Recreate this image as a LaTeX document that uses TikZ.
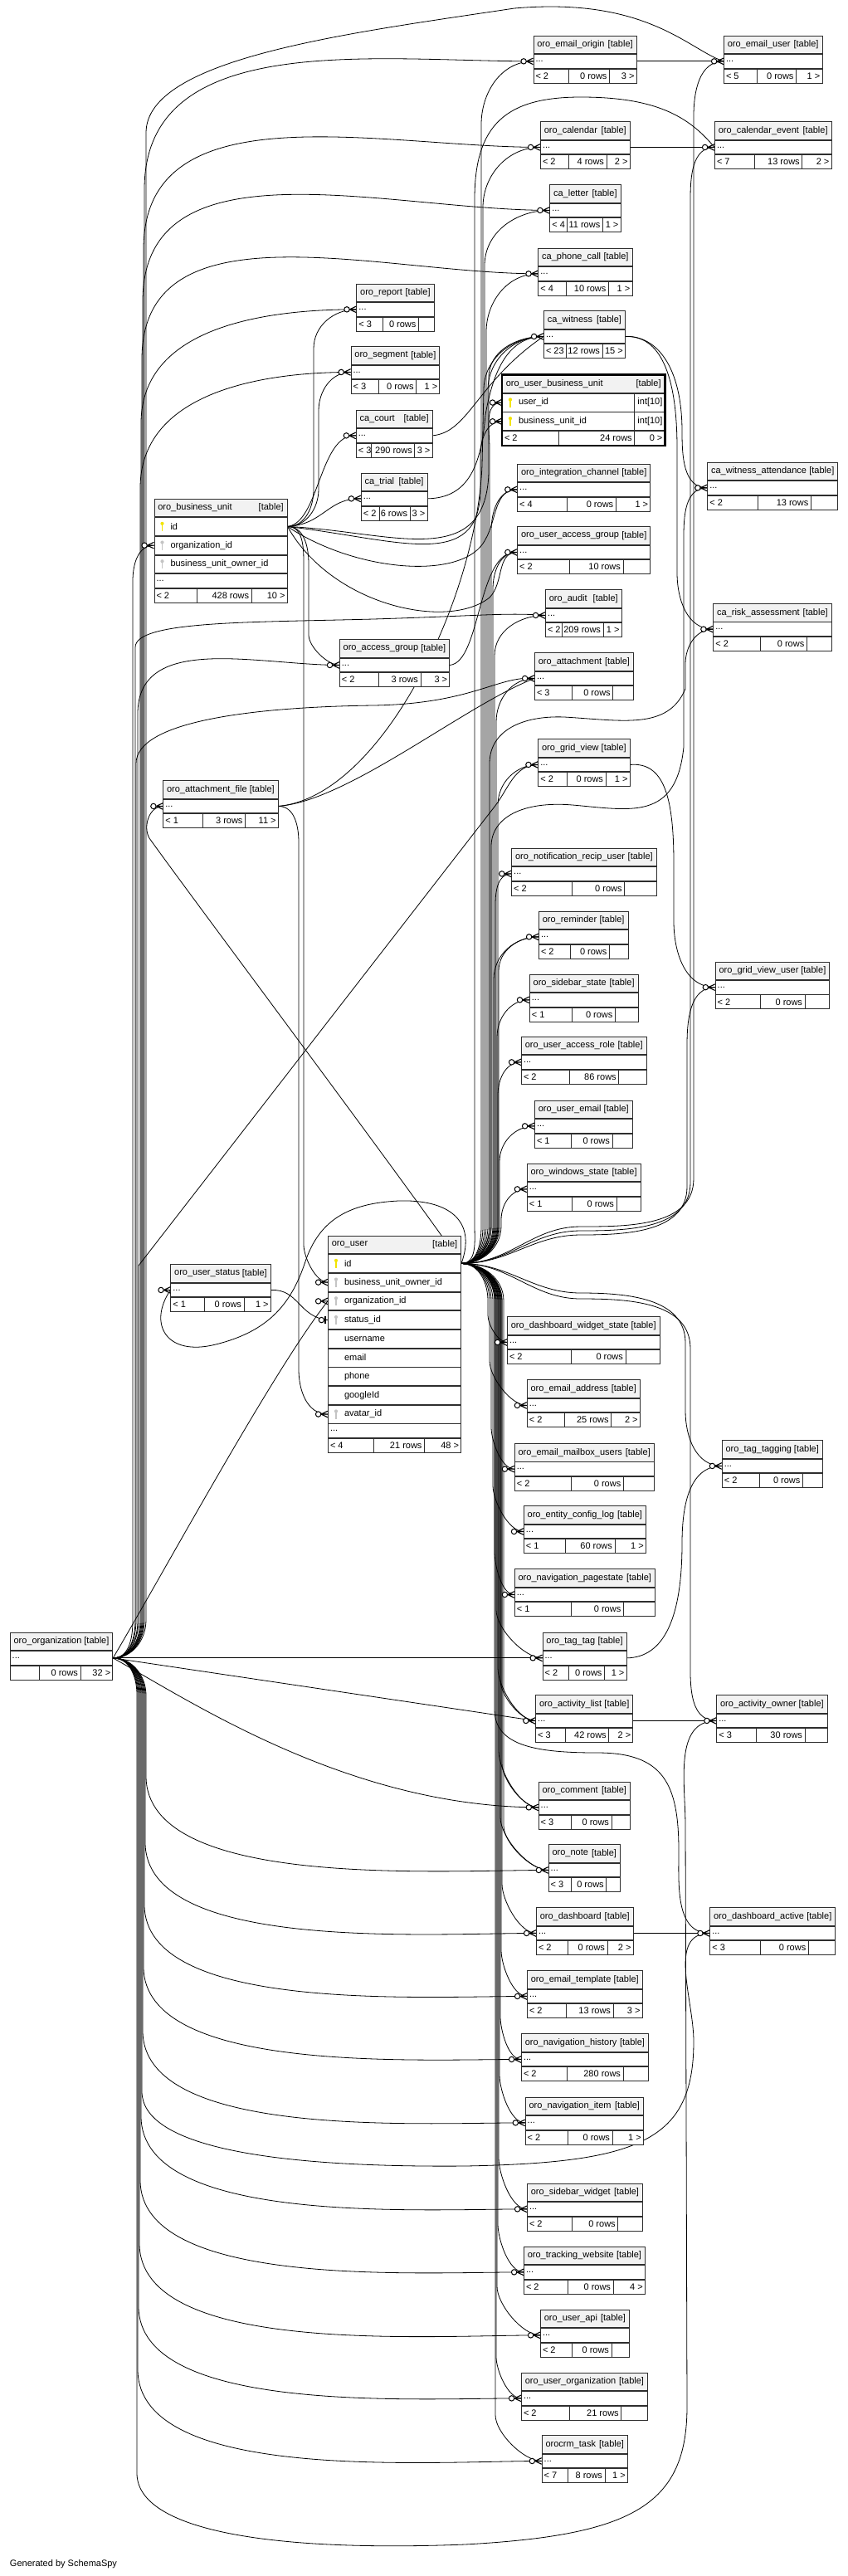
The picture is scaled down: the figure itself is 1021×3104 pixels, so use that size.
\documentclass[tikz,border=0pt]{standalone}
\usepackage{fontspec}
\setmainfont{Liberation Sans}
\usetikzlibrary{calc}
\usetikzlibrary{backgrounds}

\definecolor{hdrgray}{HTML}{F2F2F2}
\definecolor{pkyellow}{HTML}{F2E400}
\definecolor{fkgray}{HTML}{C4C4C4}
\definecolor{tblline}{HTML}{2E2E2E}

\tikzset{
  pkkey/.pic={\fill[pkyellow] (0,-3.6) circle (2.1); \fill[pkyellow] (-0.7,-3) rectangle (0.7,5.5);},
  fkkey/.pic={\fill[fkgray] (0,-3.6) circle (2.1); \fill[fkgray] (-0.7,-3) rectangle (0.7,5.5);},
  nokey/.pic={},
  crowfoot/.pic={
    \draw[line width=1.1pt] (-8,0) -- (0,-3.8) (-8,0) -- (0,0) (-8,0) -- (0,3.8);
    \draw[line width=1pt, fill=white] (-11.4,0) circle (3.2);},
  onebar/.pic={
    \draw[line width=1.1pt] (-4,0) -- (0,0) (-3,-4.5) -- (-3,4.5);
    \draw[line width=1pt, fill=white] (-7.6,0) circle (3.2);}
}

% table parts
\newcommand{\tblhead}[5]{%
  \node[hdr, minimum width=#4pt] (#1) at (#2,#3) {};
  \node[hdrtxt, anchor=west] at (#1.west) {#5};
  \node[hdrtxt, anchor=east] at (#1.east) {[table]};
}
\newcommand{\tbldots}[3]{%
  \node[cell, minimum width=#3pt, minimum height=16.7pt] (#1) at (#2.south west) {};
  \node[txt, anchor=west] at (#1.west) {...};
}
\newcommand{\tblfoot}[7]{%
  \node[cell, minimum width=#3pt, minimum height=17pt] (#1) at (#2.south west) {};
  \foreach \splitA/\splitB in {#7} {
    \draw[tline] ([xshift=\splitA pt]#1.north west) -- ([xshift=\splitA pt]#1.south west)
                 ([xshift=\splitB pt]#1.north west) -- ([xshift=\splitB pt]#1.south west);
    \node[txt, anchor=east] at ([xshift=\splitB pt]#1.west) {#5};
  }
  \node[txt, anchor=west] at (#1.west) {#4};
  \node[txt, anchor=east] at (#1.east) {#6};
}
\newcommand{\tblcol}[5]{%
  \node[cell, minimum width=#3pt, minimum height=21.9pt] (#1) at (#2.south west) {};
  \pic at ([xshift=10pt]#1.west) {#5key};
  \node[txt, anchor=west] at ([xshift=17pt]#1.west) {#4};
}
\newcommand{\tbl}[9]{%
  \tblhead{#1}{#2}{#3}{#4}{#5}
  \tbldots{#1-d}{#1}{#4}
  \tblfoot{#1-f}{#1-d}{#4}{#6}{#7}{#8}{#9}
}
% connectors along a lane
\newcommand{\fkup}[4]{%
  \coordinate (ln) at (#3,#4);
  \draw[fk] (#1) to[out=0,in=-90] ($(#1 -| ln)+(0,-45)$) -- (ln) to[out=90,in=180] (#2);
}
\newcommand{\fkdn}[4]{%
  \coordinate (ln) at (#3,#4);
  \draw[fk] (#1) to[out=0,in=90] ($(#1 -| ln)+(0,45)$) -- (ln) to[out=-90,in=180,looseness=.7] (#2);
}

\begin{document}
\begin{tikzpicture}[x=1pt, y=-1pt,
    font=\fontsize{11}{13}\selectfont,
    hdr/.style={draw=tblline, line width=.8pt, fill=hdrgray, inner sep=0pt, anchor=north west, minimum height=21.6pt},
    cell/.style={draw=tblline, line width=.8pt, fill=white, inner sep=0pt, anchor=north west},
    txt/.style={inner sep=2.8pt},
    hdrtxt/.style={inner sep=4.6pt},
    tline/.style={draw=tblline, line width=.8pt},
    fk/.style={draw=black, line width=.8pt}]
  \useasboundingbox (0,0) rectangle (1021,3104);

  % tables
  \tbl{eorig}{642.5}{42.7}{124.2}{oro\_email\_origin}{< 2}{0 rows}{3 >}{42.5/92}
  \tbl{euser}{872}{42.7}{118.5}{oro\_email\_user}{< 5}{0 rows}{1 >}{40/87.5}
  \tbl{cal}{651}{146.3}{107.7}{oro\_calendar}{< 2}{4 rows}{2 >}{34/80}
  \tbl{calev}{861}{146.3}{140.6}{oro\_calendar\_event}{< 7}{13 rows}{2 >}{48/105.7}
  \tbl{letter}{662.3}{222.3}{85.3}{ca\_letter}{< 4}{11 rows}{1 >}{21/64}
  \tbl{phone}{648.4}{298.7}{113.1}{ca\_phone\_call}{< 4}{10 rows}{1 >}{33.6/85}
  \tbl{report}{429.4}{341.7}{93.2}{oro\_report}{< 3}{0 rows}{}{32/75}
  \tbl{segment}{422.6}{417.3}{106.8}{oro\_segment}{< 3}{0 rows}{1 >}{33.4/79}
  \tbl{witness}{655}{374.3}{98}{ca\_witness}{< 23}{12 rows}{15 >}{27.5/71}
  \tbl{court}{428.8}{493.7}{91.8}{ca\_court}{< 3}{290 rows}{3 >}{19/71}
  \tbl{trial}{434.8}{569.7}{79.7}{ca\_trial}{< 2}{6 rows}{3 >}{22.6/59.4}
  \tbl{intch}{623.2}{558.7}{160.1}{oro\_integration\_channel}{< 4}{0 rows}{1 >}{60.6/119}
  \tbl{uag}{623.2}{634.3}{160.1}{oro\_user\_access\_group}{< 2}{10 rows}{}{62.8/127.7}
  \tbl{wattend}{852.3}{556.7}{157}{ca\_witness\_attendance}{< 2}{13 rows}{}{61/125}
  \tbl{audit}{657}{710.3}{91.7}{oro\_audit}{< 2}{209 rows}{1 >}{20.7/70}
  \tbl{risk}{859.3}{727}{142.4}{ca\_risk\_assessment}{< 2}{0 rows}{}{56.7/113}
  \tbl{agroup}{408.9}{770.3}{132.4}{oro\_access\_group}{< 2}{3 rows}{3 >}{47.1/98.1}
  \tbl{attach}{644}{786.3}{119}{oro\_attachment}{< 3}{0 rows}{}{45/94.7}
  \tbl{grid}{648.3}{890.3}{110.4}{oro\_grid\_view}{< 2}{0 rows}{1 >}{35.5/81.7}
  \tbl{afile}{196.3}{940.3}{138.5}{oro\_attachment\_file}{< 1}{3 rows}{11 >}{48.1/99.2}
  \tbl{notif}{616.2}{1021.7}{174.5}{oro\_notification\_recip\_user}{< 2}{0 rows}{}{72.8/136.4}
  \tbl{remind}{649}{1097.7}{107.5}{oro\_reminder}{< 2}{0 rows}{}{38.7/85.4}
  \tbl{sstate}{637.9}{1173.7}{130.7}{oro\_sidebar\_state}{< 1}{0 rows}{}{51.1/103.5}
  \tbl{gvuser}{861.7}{1158.5}{137.6}{oro\_grid\_view\_user}{< 2}{0 rows}{}{54.3/108.3}
  \tbl{uarole}{628}{1248.7}{150.6}{oro\_user\_access\_role}{< 2}{86 rows}{}{58/117.7}
  \tbl{uemail}{644}{1325.7}{117.7}{oro\_user\_email}{< 1}{0 rows}{}{44/93.9}
  \tbl{wstate}{634.8}{1401.7}{136.8}{oro\_windows\_state}{< 1}{0 rows}{}{54.2/108.2}
  \tbl{ustatus}{205.4}{1523.3}{120.4}{oro\_user\_status}{< 1}{0 rows}{1 >}{40.6/88.6}
  \tbl{dws}{611}{1586.3}{183.6}{oro\_dashboard\_widget\_state}{< 2}{0 rows}{}{77/142.9}
  \tbl{eaddr}{634.8}{1662.3}{136}{oro\_email\_address}{< 2}{25 rows}{2 >}{45.9/101.8}
  \tbl{emb}{619.8}{1739}{168}{oro\_email\_mailbox\_users}{< 2}{0 rows}{}{69/131.5}
  \tbl{tagging}{869.8}{1735.3}{121.1}{oro\_tag\_tagging}{< 2}{0 rows}{}{45.6/97.6}
  \tbl{ecl}{630.9}{1814.3}{147.1}{oro\_entity\_config\_log}{< 1}{60 rows}{1 >}{50.7/110}
  \tbl{npage}{619.8}{1890.3}{169.2}{oro\_navigation\_pagestate}{< 1}{0 rows}{}{69/131.5}
  \tbl{org}{11.7}{1966.7}{123.7}{oro\_organization}{}{0 rows}{32 >}{35.2/85.3}
  \tbl{tag}{653.6}{1966.7}{101}{oro\_tag\_tag}{< 2}{0 rows}{1 >}{31.3/74.9}
  \tbl{alist}{645.2}{2042.3}{117.2}{oro\_activity\_list}{< 3}{42 rows}{2 >}{35.8/88.5}
  \tbl{aowner}{863.3}{2042.3}{133.4}{oro\_activity\_owner}{< 3}{30 rows}{}{48.2/106.7}
  \tbl{comment}{648.7}{2146.7}{110.3}{oro\_comment}{< 3}{0 rows}{}{40/88.3}
  \tbl{note}{660.7}{2222.3}{86.3}{oro\_note}{< 3}{0 rows}{}{28/70}
  \tbl{dash}{646}{2298.3}{116.7}{oro\_dashboard}{< 2}{0 rows}{2 >}{38.7/86}
  \tbl{dactive}{855.3}{2298.3}{151}{oro\_dashboard\_active}{< 3}{0 rows}{}{61/119}
  \tbl{etpl}{635}{2374.3}{138.7}{oro\_email\_template}{< 2}{13 rows}{3 >}{47/104}
  \tbl{nhist}{628}{2450.3}{153}{oro\_navigation\_history}{< 2}{280 rows}{}{55.7/123}
  \tbl{nitem}{632.7}{2526.7}{142.3}{oro\_navigation\_item}{< 2}{0 rows}{1 >}{52/105.3}
  \tbl{swidget}{635}{2630.7}{139}{oro\_sidebar\_widget}{< 2}{0 rows}{}{54.7/109.7}
  \tbl{twebsite}{631}{2706.7}{146}{oro\_tracking\_website}{< 2}{0 rows}{4 >}{53.7/108}
  \tbl{uapi}{651}{2782.7}{107}{oro\_user\_api}{< 2}{0 rows}{}{38.7/86}
  \tbl{uorg}{628}{2858.7}{152}{oro\_user\_organization}{< 2}{21 rows}{}{58/120.7}
  \tbl{task}{652.7}{2934.3}{103.3}{orocrm\_task}{< 7}{8 rows}{1 >}{32/76.3}

  % oro_business_unit
  \tblhead{bu}{185.5}{600.7}{160.2}{oro\_business\_unit}
  \tblcol{bu-id}{bu}{160.2}{id}{pk}
  \tblcol{bu-org}{bu-id}{160.2}{organization\_id}{fk}
  \tblcol{bu-buo}{bu-org}{160.2}{business\_unit\_owner\_id}{fk}
  \tbldots{bu-d}{bu-buo}{160.2}
  \tblfoot{bu-f}{bu-d}{160.2}{< 2}{428 rows}{10 >}{51.9/117.7}

  % oro_user_business_unit
  \tblhead{ubu}{605}{451.3}{195.6}{oro\_user\_business\_unit}
  \tblcol{ubu-uid}{ubu}{195.6}{user\_id}{pk}
  \tblcol{ubu-buid}{ubu-uid}{195.6}{business\_unit\_id}{pk}
  \draw[tline] ([xshift=159.7pt]ubu-uid.north west) -- ([xshift=159.7pt]ubu-buid.south west);
  \node[txt, anchor=east] at (ubu-uid.east) {int[10]};
  \node[txt, anchor=east] at (ubu-buid.east) {int[10]};
  \tblfoot{ubu-f}{ubu-buid}{195.6}{< 2}{24 rows}{0 >}{68.8/159.7}
  \draw[line width=2.6pt] (ubu.north west) rectangle (ubu-f.south east);

  % oro_user
  \tblhead{user}{395}{1488.7}{160.2}{oro\_user}
  \tblcol{user-id}{user}{160.2}{id}{pk}
  \tblcol{user-buo}{user-id}{160.2}{business\_unit\_owner\_id}{fk}
  \tblcol{user-org}{user-buo}{160.2}{organization\_id}{fk}
  \tblcol{user-status}{user-org}{160.2}{status\_id}{fk}
  \tblcol{user-name}{user-status}{160.2}{username}{no}
  \tblcol{user-email}{user-name}{160.2}{email}{no}
  \tblcol{user-phone}{user-email}{160.2}{phone}{no}
  \tblcol{user-gid}{user-phone}{160.2}{googleId}{no}
  \tblcol{user-avatar}{user-gid}{160.2}{avatar\_id}{fk}
  \tbldots{user-d}{user-avatar}{160.2}
  \tblfoot{user-f}{user-d}{160.2}{< 4}{21 rows}{48 >}{55/116.5}

  \node[txt, anchor=west] (gen) at (9,3090) {Generated by SchemaSpy};

  \begin{scope}[on background layer]
    \fill[white] (0,0) rectangle (1021,3104);
    % oro_organization, upwards
    \draw[fk] (org-d.east) to[out=0,in=-90] (176,1952) -- (176,160) .. controls (176,70) and (420,40) .. (620,10) .. controls (780,-4) and (830,60) .. (euser-d.west);
    \fkup{org-d.east}{eorig-d.west}{174}{228}
    \fkup{org-d.east}{cal-d.west}{173}{300}
    \fkup{org-d.east}{letter-d.west}{172}{363}
    \fkup{org-d.east}{phone-d.west}{171}{433}
    \fkup{org-d.east}{report-d.west}{170}{510}
    \fkup{org-d.east}{segment-d.west}{169}{588}
    \fkup{org-d.east}{bu-org.west}{160}{700}
    \fkup{org-d.east}{agroup-d.west}{166}{860}
    \draw[fk] (org-d.east) to[out=0,in=-90] (164,1952) -- (164,920) .. controls (164,870) and (300,852) .. (450,850) .. controls (570,848) and (600,814) .. (attach-d.west);
    \draw[fk] (org-d.east) to[out=0,in=-90] (163,1952) -- (163,780) .. controls (163,748) and (300,750) .. (450,746) .. controls (580,742) and (610,738) .. (audit-d.west);
    \draw[fk] (org-d.east) to[out=0,in=-90] (167,1952) -- (167,1525) -- (596,972) to[out=52,in=180] (grid-d.west);
    \draw[fk] (org-d.east) .. controls (200,1890) and (330,1650) .. (user-org.west);
    % oro_organization, downwards
    \draw[fk] (org-d.east) -- (tag-d.west);
    \draw[fk] (org-d.east) -- (alist-d.west);
    \draw[fk] (org-d.east) .. controls (230,2050) and (420,2177) .. (comment-d.west);
    \fkdn{org-d.east}{note-d.west}{176}{2140}
    \fkdn{org-d.east}{dash-d.west}{175}{2220}
    \fkdn{org-d.east}{etpl-d.west}{174}{2295}
    \fkdn{org-d.east}{nhist-d.west}{173}{2370}
    \fkdn{org-d.east}{nitem-d.west}{172}{2447}
    \fkdn{org-d.east}{swidget-d.west}{170}{2550}
    \fkdn{org-d.east}{twebsite-d.west}{169}{2627}
    \fkdn{org-d.east}{uapi-d.west}{168}{2703}
    \fkdn{org-d.east}{uorg-d.west}{167}{2779}
    \fkdn{org-d.east}{task-d.west}{166}{2855}
    \draw[fk] (org-d.east) to[out=0,in=90] (171,2042) -- (171,2520) .. controls (171,2585) and (320,2612) .. (560,2610) .. controls (770,2606) and (836,2580) .. (836,2460) to[out=90,in=180] (dactive-d.west);
    \draw[fk] (org-d.east) to[out=0,in=90] (165,2042) -- (165,2980) .. controls (165,3050) and (330,3075) .. (560,3066) .. controls (760,3055) and (828,3020) .. (828,2900) -- (826,2200) to[out=90,in=180] (aowner-d.west);
    % oro_business_unit
    \fkup{bu-id.east}{report-d.west}{378}{420}
    \fkup{bu-id.east}{segment-d.west}{384}{495}
    \draw[fk] (bu-id.east) .. controls (385,630) and (385,522) .. (court-d.west);
    \draw[fk] (bu-id.east) .. controls (390,632) and (395,600) .. (trial-d.west);
    \draw[fk] (bu-id.east) .. controls (470,640) and (585,690) .. (589,570) -- (589,455) to[out=90,in=180] (witness-d.west);
    \draw[fk] (bu-id.east) .. controls (480,650) and (578,690) .. (579,590) -- (579,550) to[out=90,in=180] (ubu-buid.west);
    \draw[fk] (bu-id.east) .. controls (430,690) and (560,700) .. (585,650) to[out=60,in=180] (intch-d.west);
    \draw[fk] (bu-id.east) .. controls (400,730) and (540,760) .. (590,720) to[out=45,in=180] (uag-d.west);
    \fkdn{bu-id.east}{agroup-d.west}{372}{765}
    \fkdn{bu-id.east}{user-buo.west}{366}{1500}
    % oro_attachment_file
    \draw[fk] (afile-d.east) .. controls (420,965) and (560,850) .. (attach-d.west);
    \draw[fk] (afile-d.east) .. controls (460,960) and (575,720) .. (581,560) -- (583,470) to[out=90,in=180] (witness-d.west);
    \draw[fk] (afile-d.east) to[out=0,in=90] (360,1015) -- (360,1650) to[out=-90,in=180] (user-avatar.west);
    % small parents
    \draw[fk] (court-d.east) .. controls (565,521) and (575,460) .. (witness-d.west);
    \draw[fk] (trial-d.east) .. controls (565,600) and (580,560) .. (585,500) to[out=80,in=180] (witness-d.west);
    \draw[fk] (agroup-d.east) .. controls (580,798) and (575,662) .. (uag-d.west);
    \draw[fk] (eorig-d.east) -- (euser-d.west);
    \draw[fk] (cal-d.east) -- (calev-d.west);
    \draw[fk] (alist-d.east) -- (aowner-d.west);
    \draw[fk] (dash-d.east) -- (dactive-d.west);
    \draw[fk] (witness-d.east) .. controls (790,404) and (822,440) .. (822,520) to[out=-90,in=180] (wattend-d.west);
    \draw[fk] (witness-d.east) .. controls (795,404) and (816,450) .. (816,540) -- (816,690) to[out=-90,in=180] (risk-d.west);
    \draw[fk] (grid-d.east) .. controls (800,918) and (812,960) .. (812,1040) -- (812,1110) to[out=-90,in=180] (gvuser-d.west);
    \draw[fk] (tag-d.east) .. controls (800,1997) and (822,1950) .. (822,1860) to[out=90,in=180] (tagging-d.west);
    \draw[fk] (ustatus-d.east) .. controls (360,1553) and (360,1587) .. (user-status.west);
    % oro_user, upwards
    \fkup{user-id.east}{eorig-d.west}{580}{150}
    \fkup{user-id.east}{cal-d.west}{582}{250}
    \fkup{user-id.east}{letter-d.west}{584}{320}
    \fkup{user-id.east}{phone-d.west}{586}{400}
    \fkup{user-id.east}{witness-d.west}{588}{470}
    \fkup{user-id.east}{ubu-uid.west}{590}{540}
    \fkup{user-id.east}{intch-d.west}{592}{640}
    \fkup{user-id.east}{uag-d.west}{594}{710}
    \fkup{user-id.east}{audit-d.west}{596}{790}
    \fkup{user-id.east}{attach-d.west}{598}{870}
    \fkup{user-id.east}{grid-d.west}{600}{970}
    \fkup{user-id.east}{notif-d.west}{597}{1090}
    \fkup{user-id.east}{remind-d.west}{595}{1180}
    \fkup{user-id.east}{remind-d.west}{601}{1170}
    \fkup{user-id.east}{sstate-d.west}{599}{1250}
    \fkup{user-id.east}{uarole-d.west}{600}{1320}
    \fkup{user-id.east}{uemail-d.west}{602}{1400}
    \fkup{user-id.east}{wstate-d.west}{604}{1470}
    \draw[fk] (user-id.east) to[out=0,in=-90] (572,1476) -- (572,240) .. controls (572,150) and (610,117) .. (700,117) .. controls (790,117) and (830,140) .. (calev-d.west);
    \draw[fk] (user-id.east) to[out=0,in=180] (700,1478) to[out=0,in=-90] (836,1420) -- (836,140) to[out=90,in=180] (euser-d.west);
    \draw[fk] (user-id.east) to[out=0,in=180] (700,1483) to[out=0,in=-90] (832,1425) -- (832,240) to[out=90,in=180] (calev-d.west);
    \draw[fk] (user-id.east) to[out=0,in=180] (700,1488) to[out=0,in=-90] (828,1430) -- (828,1260) to[out=90,in=180] (gvuser-d.west);
    \draw[fk] (user-id.east) to[out=0,in=-90] (590,1476) -- (590,920) .. controls (590,880) and (630,862) .. (680,864) .. controls (750,868) and (805,880) .. (826,830) -- (826,800) to[out=90,in=180] (risk-d.west);
    \draw[fk] (user-id.east) to[out=0,in=-90] (592,1476) -- (592,1020) .. controls (592,985) and (630,965) .. (690,970) .. controls (760,976) and (815,990) .. (824,900) -- (824,660) to[out=90,in=180] (wattend-d.west);
    \draw[fk] (user-id.east) .. controls (470,1400) and (230,1080) .. (180,1010) to[out=120,in=180] (afile-d.west);
    \draw[fk] (user-id.east) .. controls (575,1470) and (540,1445) .. (480,1447) .. controls (420,1450) and (385,1470) .. (368,1520) .. controls (350,1575) and (320,1605) .. (260,1620) .. controls (200,1635) and (178,1595) .. (ustatus-d.west);
    % oro_user, downwards
    \fkdn{user-id.east}{dws-d.west}{588}{1585}
    \fkdn{user-id.east}{eaddr-d.west}{590}{1640}
    \fkdn{user-id.east}{emb-d.west}{592}{1720}
    \fkdn{user-id.east}{ecl-d.west}{594}{1790}
    \fkdn{user-id.east}{npage-d.west}{596}{1870}
    \fkdn{user-id.east}{tag-d.west}{598}{1940}
    \fkdn{user-id.east}{alist-d.west}{600}{2010}
    \fkdn{user-id.east}{alist-d.west}{603}{2025}
    \fkdn{user-id.east}{comment-d.west}{601}{2110}
    \fkdn{user-id.east}{comment-d.west}{605}{2125}
    \fkdn{user-id.east}{note-d.west}{603}{2190}
    \fkdn{user-id.east}{note-d.west}{607}{2200}
    \fkdn{user-id.east}{dash-d.west}{605}{2270}
    \fkdn{user-id.east}{etpl-d.west}{604}{2350}
    \fkdn{user-id.east}{nhist-d.west}{603}{2430}
    \fkdn{user-id.east}{nitem-d.west}{602}{2500}
    \fkdn{user-id.east}{swidget-d.west}{601}{2600}
    \fkdn{user-id.east}{twebsite-d.west}{600}{2680}
    \fkdn{user-id.east}{uapi-d.west}{599}{2755}
    \fkdn{user-id.east}{uorg-d.west}{598}{2840}
    \fkdn{user-id.east}{task-d.west}{597}{2910}
    \draw[fk] (user-id.east) to[out=0,in=90] (596,1566) -- (596,2060) .. controls (596,2105) and (650,2112) .. (720,2112) .. controls (800,2112) and (818,2150) .. (818,2230) to[out=-90,in=180] (dactive-d.west);
    \draw[fk] (user-id.east) to[out=0,in=180] (700,1565) to[out=0,in=90] (832,1625) -- (832,1990) to[out=-90,in=180] (aowner-d.west);
    \draw[fk] (user-id.east) to[out=0,in=180] (700,1558) to[out=0,in=90] (826,1618) -- (826,1700) to[out=-90,in=180] (tagging-d.west);
  \end{scope}

  % crow's feet at the child ends
  \foreach \c in {eorig-d, euser-d, cal-d, calev-d, letter-d, phone-d, report-d, segment-d,
      witness-d, ubu-uid, ubu-buid, court-d, trial-d, bu-org, intch-d, uag-d, wattend-d,
      audit-d, risk-d, agroup-d, attach-d, afile-d, grid-d, notif-d, remind-d, sstate-d,
      gvuser-d, uarole-d, uemail-d, wstate-d, ustatus-d, user-buo, user-org, user-avatar,
      dws-d, eaddr-d, emb-d, tagging-d, ecl-d, npage-d, tag-d, alist-d, aowner-d, comment-d,
      note-d, dash-d, dactive-d, etpl-d, nhist-d, nitem-d, swidget-d, twebsite-d, uapi-d,
      uorg-d, task-d}
    \pic at (\c.west) {crowfoot};
  \pic at (user-status.west) {onebar};
\end{tikzpicture}
\end{document}
